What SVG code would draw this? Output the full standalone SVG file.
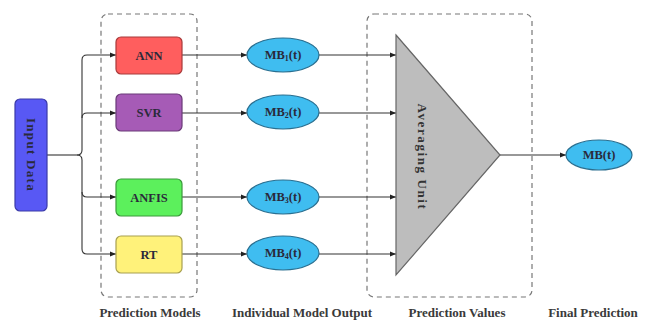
<svg xmlns="http://www.w3.org/2000/svg" width="647" height="322" viewBox="0 0 647 322">
<defs>
<marker id="arr" viewBox="0 0 10 10" refX="10" refY="5" markerWidth="6" markerHeight="6" orient="auto" markerUnits="userSpaceOnUse">
<path d="M0,1 L10,5 L0,9 z" fill="#222"/>
</marker>
<style>
.t{font-family:"Liberation Serif","DejaVu Serif",serif;font-weight:bold;fill:#2a2a3a;}
.lbl{font-size:13px;text-anchor:middle;fill:#3a3a3a;}
.nt{font-size:12.5px;text-anchor:middle;dominant-baseline:central;}
.box{stroke-width:1.2;}
.ell{fill:#3fbdf0;stroke:#2a6f90;stroke-width:1.2;}
.dash{fill:none;stroke:#777;stroke-width:1.2;stroke-dasharray:5,4;}
.con{fill:none;stroke:#333;stroke-width:1.1;}
</style>
</defs>
<rect fill="#fff" width="647" height="322"/>
<g id="groups">
<rect class="dash" x="101" y="14" width="96" height="283" rx="7"/>
<rect class="dash" x="367" y="14" width="165" height="283" rx="7"/>
</g>
<g id="connectors">
<path class="con" d="M47,155 H77"/>
<path class="con" d="M77,155 Q82,155 82,150 V60 Q82,55 87,55 H116" marker-end="url(#arr)"/>
<path class="con" d="M82,118 Q82,113 87,113 H116" marker-end="url(#arr)"/>
<path class="con" d="M77,155 Q82,155 82,160 V249 Q82,254 87,254 H116" marker-end="url(#arr)"/>
<path class="con" d="M82,192 Q82,197 87,197 H116" marker-end="url(#arr)"/>
<path class="con" d="M182,55 H247" marker-end="url(#arr)"/>
<path class="con" d="M182,113 H247" marker-end="url(#arr)"/>
<path class="con" d="M182,197 H247" marker-end="url(#arr)"/>
<path class="con" d="M182,254 H247" marker-end="url(#arr)"/>
<path class="con" d="M319,55 H396" marker-end="url(#arr)"/>
<path class="con" d="M319,113 H396" marker-end="url(#arr)"/>
<path class="con" d="M319,197 H396" marker-end="url(#arr)"/>
<path class="con" d="M319,254 H396" marker-end="url(#arr)"/>
<path class="con" d="M500,155 H566" marker-end="url(#arr)"/>
</g>
<g id="input">
<rect class="box" x="15" y="99" width="32" height="112" rx="5" fill="#5858f4" stroke="#3a3aa8"/>
<text class="t nt" transform="translate(31,155) rotate(90)" style="font-size:13px;letter-spacing:1.3px">Input Data</text>
</g>
<g id="ann">
<rect class="box" x="116" y="37" width="66" height="37" rx="5" fill="#ff5e5e" stroke="#a83a3a"/>
<text class="t nt" x="149" y="55.5">ANN</text>
</g>
<g id="svr">
<rect class="box" x="116" y="94" width="66" height="37" rx="5" fill="#a65bb6" stroke="#6a3a78"/>
<text class="t nt" x="149" y="113">SVR</text>
</g>
<g id="anfis">
<rect class="box" x="116" y="179" width="66" height="37" rx="5" fill="#5cf05c" stroke="#3a9a3a"/>
<text class="t nt" x="149" y="197.5">ANFIS</text>
</g>
<g id="rt">
<rect class="box" x="116" y="236" width="66" height="37" rx="5" fill="#fff27a" stroke="#a8a050"/>
<text class="t nt" x="149" y="254.5">RT</text>
</g>
<g id="mb1">
<ellipse class="ell" cx="283" cy="55" rx="36" ry="17"/>
<text class="t nt" x="283" y="55">MB<tspan font-size="8" dy="3">1</tspan><tspan dy="-3">(t)</tspan></text>
</g>
<g id="mb2">
<ellipse class="ell" cx="283" cy="112" rx="36" ry="17"/>
<text class="t nt" x="283" y="112">MB<tspan font-size="8" dy="3">2</tspan><tspan dy="-3">(t)</tspan></text>
</g>
<g id="mb3">
<ellipse class="ell" cx="283" cy="197" rx="36" ry="17"/>
<text class="t nt" x="283" y="197">MB<tspan font-size="8" dy="3">3</tspan><tspan dy="-3">(t)</tspan></text>
</g>
<g id="mb4">
<ellipse class="ell" cx="283" cy="253" rx="36" ry="17"/>
<text class="t nt" x="283" y="253">MB<tspan font-size="8" dy="3">4</tspan><tspan dy="-3">(t)</tspan></text>
</g>
<g id="averaging">
<polygon points="396,35 500,155 396,275" fill="#bdbdbd" stroke="#666" stroke-width="1.2"/>
<text class="t nt" transform="translate(422,157) rotate(90)" style="font-size:13px;letter-spacing:1.6px;fill:#333">Averaging Unit</text>
</g>
<g id="mb">
<ellipse class="ell" cx="599" cy="155" rx="33" ry="15"/>
<text class="t nt" x="599" y="155">MB(t)</text>
</g>
<g id="labels">
<text class="t lbl" x="150" y="317">Prediction Models</text>
<text class="t lbl" x="302" y="317">Individual Model Output</text>
<text class="t lbl" x="457" y="317">Prediction Values</text>
<text class="t lbl" x="593" y="317">Final Prediction</text>
</g>
</svg>
